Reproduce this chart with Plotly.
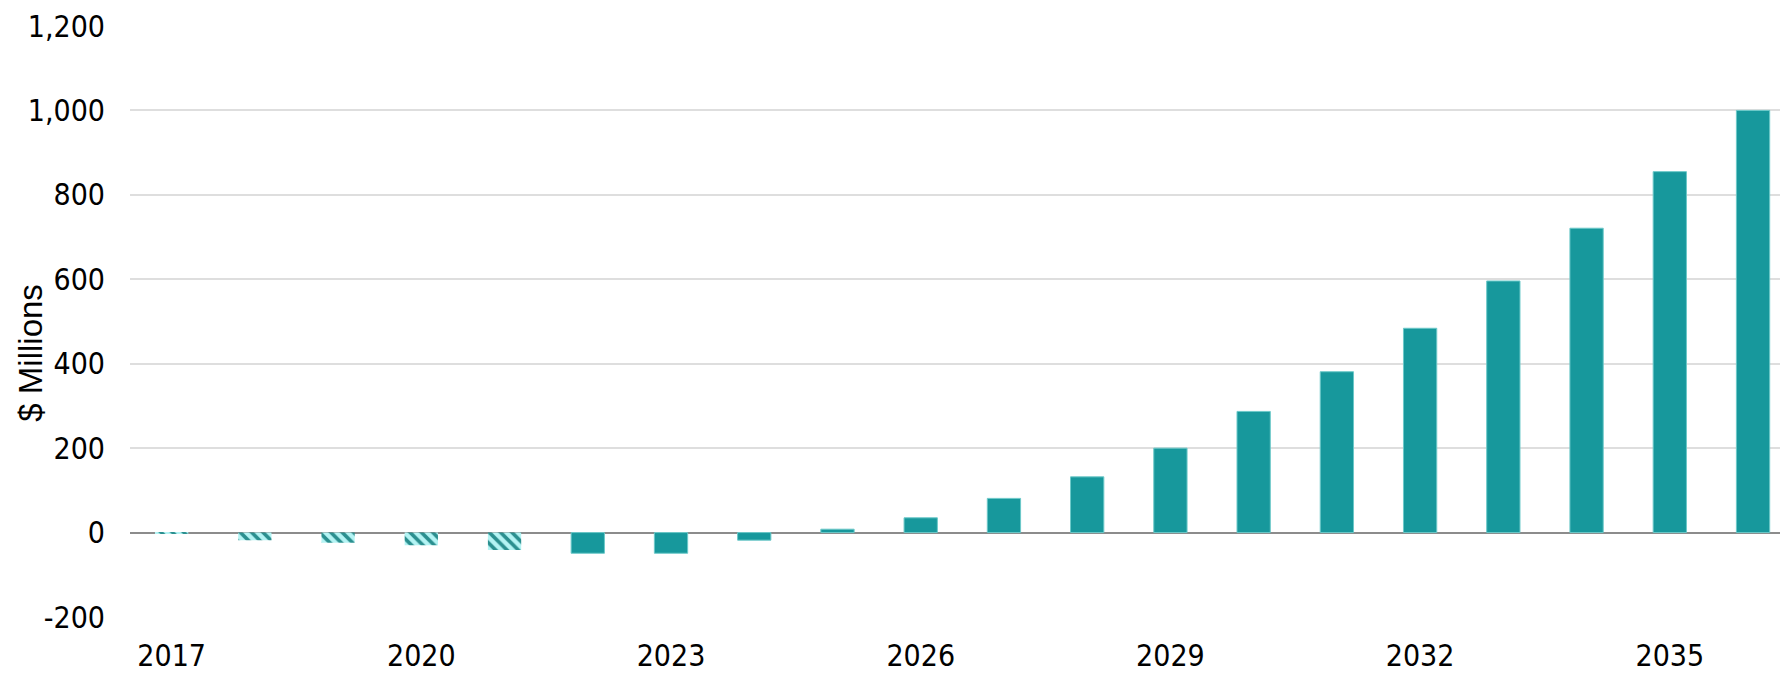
import plotly.graph_objects as go

years = list(range(2017, 2037))
values = [-2, -18, -24, -30, -41, -49, -49, -18, 8, 35, 81, 132, 200, 287, 381, 484, 596, 721, 855, 1000]
hatched = [True, True, True, True, True] + [False] * 15
tick_years = [2017, 2020, 2023, 2026, 2029, 2032, 2035]
y_ticks = [-200, 0, 200, 400, 600, 800, 1000, 1200]
y_tick_text = ["-200", "0", "200", "400", "600", "800", "1,000", "1,200"]

TEAL = "#17989C"

hx = [y for y, h in zip(years, hatched) if h]
hv = [v for v, h in zip(values, hatched) if h]
sx = [y for y, h in zip(years, hatched) if not h]
sv = [v for v, h in zip(values, hatched) if not h]

fig = go.Figure()
fig.add_trace(go.Bar(
    x=hx, y=hv, width=0.4,
    marker=dict(color="#b4f4f4", line=dict(width=0),
                pattern=dict(shape="\\", fgcolor="#2a8f8f", bgcolor="#b4f4f4",
                             size=8, solidity=0.45, fillmode="replace")),
    showlegend=False,
))
fig.add_trace(go.Bar(
    x=sx, y=sv, width=0.4,
    marker=dict(color=TEAL, line=dict(width=1, color="#6cc9c9")),
    showlegend=False,
))

narrow = "DejaVu Sans Condensed, Liberation Sans, sans-serif"

fig.update_layout(
    width=1780, height=666,
    margin=dict(l=122, r=0, t=18, b=57),
    paper_bgcolor="white", plot_bgcolor="white",
    barmode="overlay",
    xaxis=dict(
        type="linear", range=[2016.5, 2036.42],
        tickmode="array", tickvals=tick_years, ticktext=[str(t) for t in tick_years],
        showgrid=False, zeroline=False, showline=False,
        tickfont=dict(family=narrow, size=30, color="black"),
        ticks="", ticklabelstandoff=18,
    ),
    yaxis=dict(
        range=[-200, 1200],
        tickmode="array", tickvals=y_ticks, ticktext=y_tick_text,
        showgrid=True, gridcolor="#dedede", gridwidth=1.5,
        zeroline=True, zerolinecolor="#8c8c8c", zerolinewidth=2,
        showline=False, ticks="",
        tickfont=dict(family=narrow, size=30, color="black"),
        ticklabelstandoff=24,
    ),
    annotations=[dict(
        text="$ Millions", textangle=-90, showarrow=False,
        xref="paper", yref="paper", x=-0.0605, y=0.4467,
        xanchor="center", yanchor="middle",
        font=dict(family="Liberation Sans, Arial, sans-serif", size=33, color="black"),
    )],
)

fig.write_html("out.html")
